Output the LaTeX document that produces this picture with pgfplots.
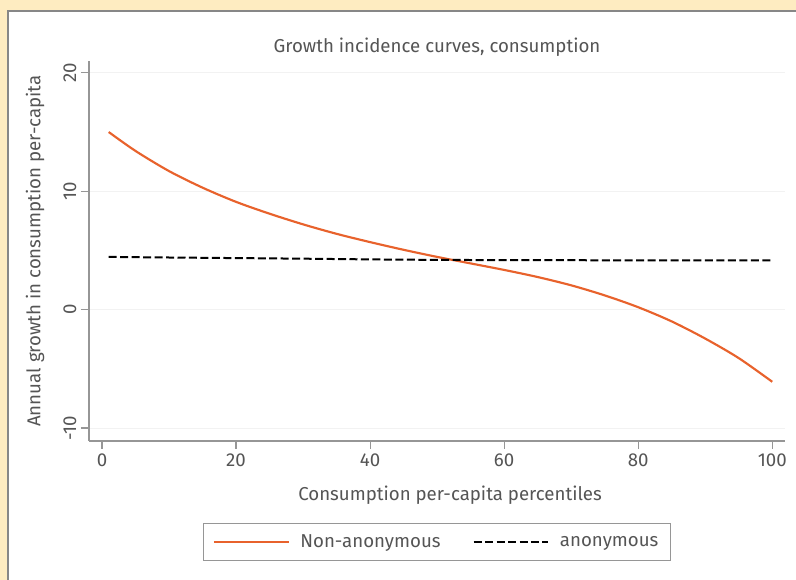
\documentclass[border=0pt]{standalone}
\usepackage{fontspec}
\setmainfont{Fira Sans}
\usepackage{pgfplots}
\pgfplotsset{compat=1.18}
\definecolor{cream}{RGB}{254,236,193}
\definecolor{gio}{RGB}{232,98,44}
\definecolor{txt}{RGB}{85,85,85}
\definecolor{axgray}{RGB}{150,150,150}
\definecolor{frame}{RGB}{135,135,135}
\begin{document}
\begin{tikzpicture}[x=0.75pt,y=0.75pt]
\useasboundingbox (0,0) rectangle (796,580);
\fill[cream] (0,0) rectangle (796,580);
\fill[white] (8,0) rectangle (796,569);
\draw[frame, line width=1.2pt] (8,-5) -- (8,569) -- (800,569);
\begin{axis}[
  at={(66.75pt,104.25pt)}, anchor=south west,
  scale only axis, width=522pt, height=285pt,
  xmin=-1.94, xmax=101.9, ymin=-11.1, ymax=21.0,
  axis x line*=bottom, axis y line*=left,
  axis line style={-, draw=axgray, line width=0.9pt},
  tick style={draw=axgray, line width=0.9pt},
  major tick length=6pt, tick align=outside,
  xtick={0,20,...,100}, ytick={-10,0,10,20},
  ymajorgrids, major grid style={draw=gray!10, line width=0.6pt},
  font=\fontsize{14}{17}\selectfont,
  /pgf/number format/assume math mode=true,
  ticklabel style={text=txt},
  yticklabel style={rotate=90, anchor=south},
  xlabel={Consumption per-capita percentiles},
  ylabel={Annual growth in consumption per-capita},
  label style={text=txt},
  xlabel style={at={(axis description cs:0.5187,-0.1421)}, anchor=center},
  ylabel style={at={(axis description cs:-0.0776,0.5)}, anchor=center},
  legend columns=2,
  legend style={at={(axis description cs:0.5,-0.2658)}, anchor=center,
    draw=axgray, fill=white, text=txt, inner xsep=7pt, inner ysep=6.5pt,
    font=\fontsize{14}{17}\selectfont,
    /tikz/every even column/.append style={column sep=22pt},
    /tikz/every odd column/.append style={column sep=6pt}},
  legend image code/.code={\draw[#1] (0pt,0pt) -- (56pt,0pt);},
]
\addplot[gio, line width=1.6pt, smooth] coordinates {
(1,15.0) (5,13.4) (10,11.7) (15,10.3) (20,9.1) (25,8.1) (30,7.2) (35,6.4)
(40,5.7) (45,5.05) (50,4.45) (55,3.9) (60,3.35) (65,2.75) (70,2.05) (75,1.2)
(80,0.2) (85,-1.0) (90,-2.45) (95,-4.1) (100,-6.1)};
\addlegendentry{Non-anonymous}
\addplot[black, line width=1.5pt, dash pattern=on 6pt off 2.6pt, smooth] coordinates {
(1,4.45) (10,4.4) (20,4.35) (30,4.3) (40,4.24) (50,4.2) (60,4.18) (70,4.17) (80,4.16) (90,4.15) (100,4.15)};
\addlegendentry{anonymous}
\end{axis}
\node[text=txt, font=\fontsize{14}{17}\selectfont] at (437,533) {Growth incidence curves, consumption};
\end{tikzpicture}
\end{document}
